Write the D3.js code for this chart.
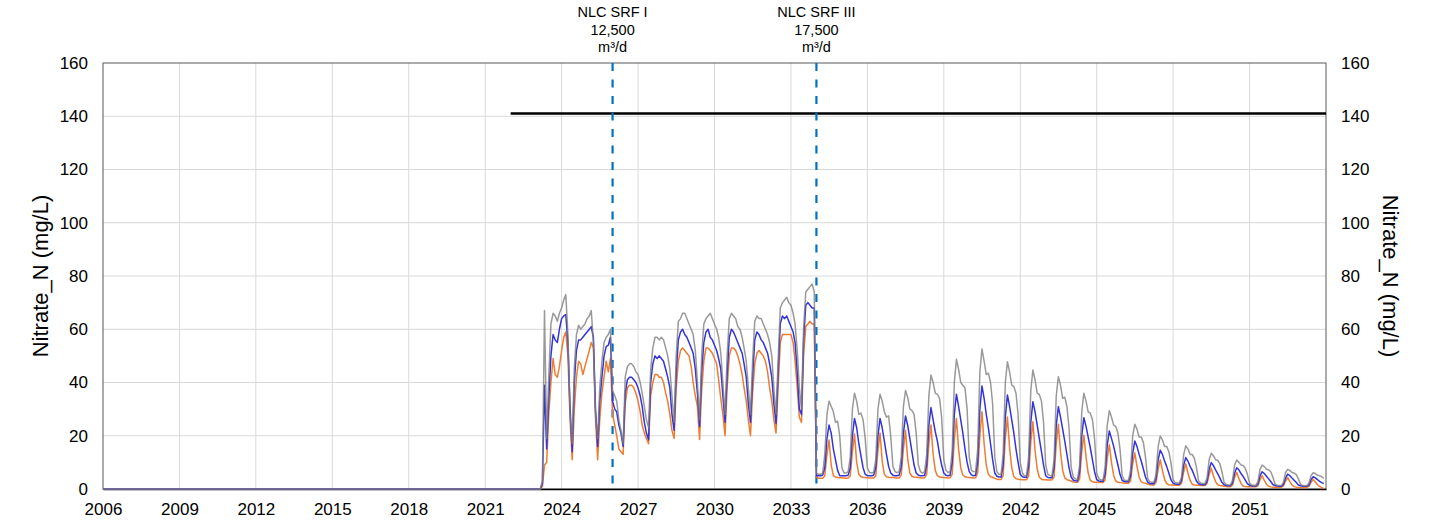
<!DOCTYPE html>
<html>
<head>
<meta charset="utf-8">
<script src="https://cdn.jsdelivr.net/npm/d3@7"></script>
<style>
  body { margin: 0; background: #fff; }
  text { font-family: "Liberation Sans", Arial, sans-serif; fill: #000; }
</style>
</head>
<body>
<script>
// monthly series, first value = Jan 2023; before that everything is 0 back to 2006
let seriesStart = [2023, 0];
let zeroFrom = 2006;

let greyValues = [
  0,0,0,3,67,19,42,62,66,65,63,66,            // 2023
  68,71,73,58,28,17,45,58,61.5,60,61,62,      // 2024
  64,65,67,55,28,19,38,48,55,57,58,60,        // 2025
  37,35,33,26,22,17,42,46,47,47,46,44,        // 2026
  43,40,36,31,26,23,45,53,57,57,56,57,        // 2027
  56,53,50,45,35,25,50,63,64,66,66,64,        // 2028
  62,60,58,52,40,26,50,62,64,65,66,64,        // 2029
  62,60,57,51,40,28,50,64,66,65,64,61,        // 2030
  60,57,53,48,38,28,48,63,65,64,64,62,        // 2031
  60,58,55,50,38,28,48,68,70,71,72,70,        // 2032
  69,66,62,52,38,30,60,74,75,76,77,74,        // 2033
  6,5.5,5.5,6,13,28,33,31,29,25,25.5,20,      // 2034
  8,6,6,6.5,12,30,36,33,28,28.5,26,19,        // 2035
  8,6.2,6,6.3,11,30,35.6,33,29,27,27.5,20,    // 2036
  8.5,6.5,6.2,6.5,12,31,37,34.5,30,29.5,28,21,// 2037
  9,6.5,6,6.5,13,35,42.8,40,36,35.5,34,27,    // 2038
  11,7,6.2,6.5,14,40,48.7,45,40,39,38,30,     // 2039
  12,7,6.5,6.5,15,44,52.6,48,43,43.5,40,32,   // 2040
  12,6.5,5.5,5.5,13,40,47.8,44,39,38.5,36,28, // 2041
  10,6,5,5,12,37,44.7,41,36,35.5,33,25,       // 2042
  9,5.5,5,5,11,35,42.2,39,34,34.5,31,23,      // 2043
  8,4.5,3.8,3.6,9,29,36,33,29,28.5,26,19,     // 2044
  6,3.8,3.5,3.4,8,24,29.4,27,24,23.5,21,15,   // 2045
  5,3.3,3.2,3.2,7,20,24.3,22.5,19.5,19.5,17.5,12, // 2046
  4,2.7,2.5,2.5,5.5,16,19.9,18.5,16,16,14,10, // 2047
  3.5,2.4,2.3,2.3,4.5,13,16.2,15,13,13,11.5,8,// 2048
  3,2.2,2.1,2.1,4,11,13.4,12.5,11,10.8,9.5,6.5, // 2049
  2.5,1.7,1.5,1.5,3.2,9,10.9,10,9,8.8,7.8,5.5,  // 2050
  2.2,1.5,1.4,1.4,2.8,7.5,9,8.4,7.4,7.2,6.5,4.5,// 2051
  2,1.4,1.3,1.3,2.5,6.2,7.4,7,6.2,6,5.4,3.8,    // 2052
  1.8,1.3,1.2,1.2,2.2,5.1,6.1,5.8,5.2,5,4.6,4   // 2053
];

let blueValues = [
  0,0,0,2,39,15,34,50,58,56,55,60,            // 2023
  64,65,65.5,55,31,14,40,52,56,56,57,58,      // 2024
  59,60,61,57,30,16,33,42,50,53.5,54,57,      // 2025
  33,30,29,24,21,16,36,41,42,42,41,40,        // 2026
  38,35,31,25,21,18.5,40,47,50,49,50,49,      // 2027
  48,45,42,38,28,22,44,56,59,60,58,57,        // 2028
  55,53,51,45,36,23.5,44,55,59,60,57,56,      // 2029
  54,52,49,45,35,25,43,57,60,59,57,55,        // 2030
  53,51,47,42,32,25,42,56,59,58,56,55,        // 2031
  53,51,47,42,32,24.5,44,62,65,64,65,63,      // 2032
  61,59,55,44,30,28,56,69,70,69,68,68,        // 2033
  5,5,5,5.2,8,19,24,21,15,11,7,5,             // 2034
  5,5,5,5.2,8,20,26.5,23,17,12.5,8,5.5,       // 2035
  5,5,5,5.2,8,20,26.5,23,18,13,8.5,6,         // 2036
  5.2,5,5,5.2,8.5,21,27.4,24,19,14,9,6,       // 2037
  5.2,5,5,5.2,9,24,30.6,26,21.5,18,13,9,      // 2038
  6,5.2,5,5.2,10,28,35.6,31,26,21,15,10,      // 2039
  6.5,5.3,5,5.2,10,30,38.7,34,28,23,17,11,    // 2040
  6,4.8,4.5,4.5,9,27,35.3,31,26,21,15,10,     // 2041
  5.5,4.6,4.4,4.4,8.5,25,32.8,29,24,19,14,9,  // 2042
  5,4.3,4.2,4.2,8,24,30.9,27,22.5,18,13,8,    // 2043
  4.5,3.3,3.1,3,6.5,20,26.8,23.5,19.5,15.5,11,6.5, // 2044
  3.5,3,2.9,2.9,5.5,16.5,21.8,19,16,12.5,9,5.5,    // 2045
  3.2,2.8,2.7,2.7,4.8,13.5,18,16,13,10.5,7.5,4.5,  // 2046
  2.6,2.1,2,2,3.8,11,14.6,13,10.5,8.5,6,3.5,       // 2047
  2.2,1.9,1.8,1.8,3.2,9,11.8,10.5,8.5,7,5,3,       // 2048
  2,1.7,1.6,1.6,2.8,7.5,9.9,8.8,7.2,5.8,4.2,2.5,   // 2049
  1.6,1.3,1.2,1.2,2.2,6,8,7.2,5.8,4.7,3.3,2,       // 2050
  1.4,1.2,1.1,1.1,1.9,5,6.5,5.8,4.8,3.8,2.8,1.7,   // 2051
  1.3,1.1,1,1,1.7,4.2,5.6,5,4.1,3.3,2.4,1.5,       // 2052
  1.2,1,1,1,1.5,3.5,4.6,4.2,3.5,2.9,2.4,2          // 2053
];

let orangeValues = [
  0,0,0,1,9,10,28,40,49,43,42,46,             // 2023
  52,57,59,50,26,11,30,42,48,47,43,46,        // 2024
  49,52,55,53,27,11,26,36,42,48,44,49,        // 2025
  28,24,20,15,14,13,32,38,39,39,38,36,        // 2026
  33,29,24,21,19,17,35,40,43,43,42,42,        // 2027
  40,36,33,28,22,19,38,48,52,53,52,51,        // 2028
  50,46,40,35,31,18.6,37,48,53,53,52,51,      // 2029
  49,47,41,34,28,20,38,50,53,53,52,50,        // 2030
  47,43,38,33,26,20,36,47,51,52,51,50,        // 2031
  48,44,38,33,26,21,38,55,58,58,58,58,        // 2032
  58,55,48,38,27,25,50,61,62,63,62,62,        // 2033
  4.5,4,4,4,5,13,18.4,9,5,4.5,4.3,4.2,        // 2034
  4.2,4.1,4,4.1,5,14,20.7,10,5.5,4.6,4.4,4.3, // 2035
  4.2,4.1,4.1,4.1,5,14.5,21,10.5,5.5,4.6,4.4,4.3, // 2036
  4.3,4.2,4.1,4.1,5.2,15,22,11.5,6,4.8,4.5,4.4,   // 2037
  4.3,4.2,4.1,4.2,5.5,17,24,13,7,5,4.5,4.4,       // 2038
  4.3,4.2,4.1,4.2,5.5,18.5,26.5,15,8,5.2,4.6,4.4, // 2039
  4.3,4.2,4.1,4.2,6,20,29,17,9,5.5,4.6,4.4,       // 2040
  4,3.7,3.6,3.6,5,19,27,15.5,8,4.6,3.9,3.7,       // 2041
  3.6,3.5,3.5,3.5,4.8,17.5,25.3,14.5,7.5,4.4,3.7,3.5, // 2042
  3.5,3.4,3.4,3.4,4.6,17,24.3,14,7,4.2,3.5,3.3,   // 2043
  3,2.6,2.5,2.5,3.8,14,20.2,12,6,3.3,2.7,2.5,     // 2044
  2.5,2.4,2.4,2.4,3.4,11.5,16.6,10,5,3,2.5,2.4,   // 2045
  2.3,2.2,2.2,2.2,3,9.5,13.6,8.5,4.5,2.7,2.3,2.2, // 2046
  1.9,1.6,1.5,1.5,2.4,7.5,11,7,3.6,2,1.6,1.5,     // 2047
  1.5,1.4,1.4,1.4,2.2,6.5,9.4,6,3.2,1.8,1.5,1.4,  // 2048
  1.4,1.3,1.3,1.3,2,5.4,7.8,5,2.8,1.6,1.3,1.2,    // 2049
  1,0.9,0.8,0.8,1.4,4.3,6.2,4,2.1,1.1,0.9,0.8,    // 2050
  0.8,0.8,0.8,0.8,1.2,3.5,5,3.2,1.8,1,0.8,0.7,    // 2051
  0.7,0.7,0.7,0.7,1.1,3,4.3,2.8,1.5,0.9,0.7,0.6,  // 2052
  0.6,0.6,0.6,0.6,1,2.5,3.6,2.6,1.6,1,0.5,0.2     // 2053
];

let tickYears = [2006,2009,2012,2015,2018,2021,2024,2027,2030,2033,2036,2039,2042,2045,2048,2051];
let axisEnd = 2054;
let yTicks = [0,20,40,60,80,100,120,140,160];

let eventYears = [2026, 2034];
let eventNames = ["NLC SRF I", "NLC SRF III"];
let eventFlows = ["12,500", "17,500"];
let eventUnits = ["m³/d", "m³/d"];

let limitValue = 141;
let limitFrom = 2022;

let yTitle = "Nitrate_N (mg/L)";

let height = 426,
    width = 1223;

let margin = {
    left:103,
    right:105,
    top:63,
    bottom:40
}

function toSeries(values) {
    let pts = [{date: new Date(zeroFrom, 0, 1), v: 0}];
    values.forEach((v, i) => pts.push({date: new Date(seriesStart[0], seriesStart[1] + i, 1), v: v}));
    return pts;
}

let x = d3.scaleTime()
    .domain([new Date(zeroFrom, 0, 1), new Date(axisEnd, 0, 1)])
    .range([0, width]);

let y = d3.scaleLinear()
    .domain([0, 160])
    .range([height, 0]);

let svg = d3.select("body")
    .append("svg")
    .attr("width", 1431)
    .attr("height", 529);

let chartGroup = svg.append("g")
    .attr("transform", `translate(${margin.left},${margin.top})`);

// grid
chartGroup.append("g")
    .selectAll("line.h")
    .data(yTicks.slice(1, -1))
    .join("line")
    .attr("x1", 0).attr("x2", width)
    .attr("y1", d => y(d)).attr("y2", d => y(d))
    .attr("stroke", "#d9d9d9").attr("stroke-width", 1);

chartGroup.append("g")
    .selectAll("line.v")
    .data(tickYears.slice(1))
    .join("line")
    .attr("x1", d => x(new Date(d, 0, 1))).attr("x2", d => x(new Date(d, 0, 1)))
    .attr("y1", 0).attr("y2", height)
    .attr("stroke", "#d9d9d9").attr("stroke-width", 1);

// plot border
chartGroup.append("rect")
    .attr("x", 0).attr("y", 0)
    .attr("width", width).attr("height", height)
    .attr("fill", "none")
    .attr("stroke", "#595959").attr("stroke-width", 1);

// axes
let xAxis = d3.axisBottom(x)
    .tickValues(tickYears.map(d => new Date(d, 0, 1)))
    .tickFormat(d3.timeFormat("%Y"))
    .tickSize(0).tickPadding(14);

let yAxisL = d3.axisLeft(y).tickValues(yTicks).tickSize(0).tickPadding(15);
let yAxisR = d3.axisRight(y).tickValues(yTicks).tickSize(0).tickPadding(15);

let gx = chartGroup.append("g")
    .attr("class", "axis x")
    .attr("transform", `translate(0, ${height})`)
    .call(xAxis);
gx.select(".domain").attr("stroke", "#000").attr("stroke-width", 1.5);

let gl = chartGroup.append("g").attr("class", "axis y").call(yAxisL);
let gr = chartGroup.append("g").attr("class", "axis y")
    .attr("transform", `translate(${width},0)`).call(yAxisR);
gl.select(".domain").remove();
gr.select(".domain").remove();

svg.selectAll(".axis text")
    .style("font-family", "'Liberation Sans', Arial, sans-serif")
    .style("font-size", "17px")
    .attr("fill", "#000");

// limit line
chartGroup.append("line")
    .attr("x1", x(new Date(limitFrom, 0, 1))).attr("x2", width)
    .attr("y1", y(limitValue)).attr("y2", y(limitValue))
    .attr("stroke", "#000").attr("stroke-width", 2.5);

// event lines
chartGroup.append("g")
    .selectAll("line")
    .data(eventYears)
    .join("line")
    .attr("x1", d => x(new Date(d, 0, 1))).attr("x2", d => x(new Date(d, 0, 1)))
    .attr("y1", 0).attr("y2", height)
    .attr("stroke", "#0070c0").attr("stroke-width", 2.2)
    .attr("stroke-dasharray", "8,8.5");

let lineGen = d3.line()
    .x(d => x(d.date))
    .y(d => y(d.v));

let series = [
    {values: orangeValues, color: "#ed7d31", op: 1},
    {values: blueValues, color: "#3434d8", op: 1},
    {values: greyValues, color: "#7f7f7f", op: 0.8}
];

series.forEach(s => {
    chartGroup.append("path")
        .attr("d", lineGen(toSeries(s.values)))
        .attr("fill", "none")
        .attr("stroke", s.color)
        .attr("stroke-opacity", s.op)
        .attr("stroke-width", 1.5)
        .attr("stroke-linejoin", "round");
});

// axis titles
svg.append("text")
    .attr("transform", `translate(48, ${margin.top + height / 2}) rotate(-90)`)
    .attr("text-anchor", "middle")
    .style("font-size", "22px")
    .text(yTitle);

svg.append("text")
    .attr("transform", `translate(${1431 - 48}, ${margin.top + height / 2}) rotate(90)`)
    .attr("text-anchor", "middle")
    .style("font-size", "22px")
    .text(yTitle);

// event labels
let labels = svg.append("g")
    .selectAll("text")
    .data(eventYears)
    .join("text")
    .attr("x", d => margin.left + x(new Date(d, 0, 1)))
    .attr("y", 17)
    .attr("text-anchor", "middle")
    .style("font-size", "14.5px");

labels.each(function(d, i) {
    let t = d3.select(this);
    let cx = margin.left + x(new Date(d, 0, 1));
    t.append("tspan").attr("x", cx).attr("dy", 0).text(eventNames[i]);
    t.append("tspan").attr("x", cx).attr("dy", 17.5).text(eventFlows[i]);
    t.append("tspan").attr("x", cx).attr("dy", 17.5).text(eventUnits[i]);
});
</script>
</body>
</html>
